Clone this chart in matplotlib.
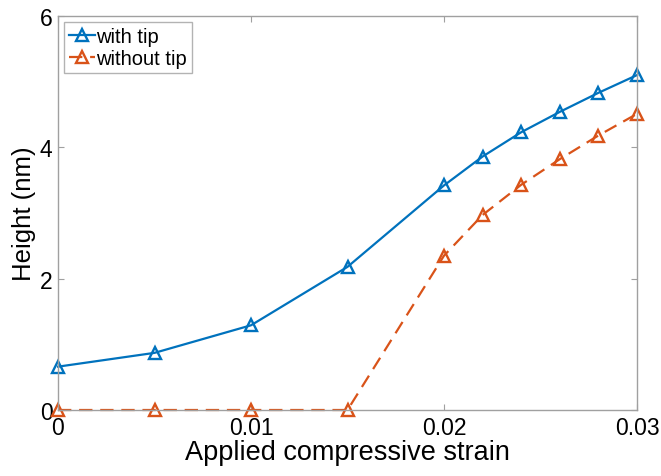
import matplotlib
matplotlib.use("Agg")
import matplotlib.pyplot as plt

strain_with = [0.0, 0.005, 0.01, 0.015, 0.02, 0.022, 0.024, 0.026, 0.028, 0.03]
height_with = [0.66, 0.87, 1.29, 2.18, 3.42, 3.86, 4.23, 4.54, 4.83, 5.10]
strain_without = [0.0, 0.005, 0.01, 0.015, 0.02, 0.022, 0.024, 0.026, 0.028, 0.03]
height_without = [0.0, 0.0, 0.0, 0.0, 2.35, 2.97, 3.43, 3.82, 4.18, 4.51]
xticks = [0, 0.01, 0.02, 0.03]
xticklabels = ["0", "0.01", "0.02", "0.03"]
yticks = [0, 2, 4, 6]

plt.rcParams['font.family'] = ['Liberation Sans', 'DejaVu Sans']

fig = plt.figure(figsize=(6.61, 4.77), dpi=100)
ax = fig.add_axes([58/661, 1-411/477, (637-58)/661, (411-17)/477])

ax.plot(strain_with, height_with, '-', color='#0072BD', lw=1.6, marker='^',
        markersize=9, markerfacecolor='none', markeredgewidth=1.7, label='with tip', clip_on=False)
ax.plot(strain_without, height_without, '--', color='#D95319', lw=1.6, marker='^',
        markersize=9, markerfacecolor='none', markeredgewidth=1.7, label='without tip',
        dashes=(6, 3.5), clip_on=False)

ax.set_xlim(0, 0.03)
ax.set_ylim(0, 6)
ax.set_xticks(xticks)
ax.set_xticklabels(xticklabels)
ax.set_yticks(yticks)
ax.tick_params(direction='in', length=4, width=0.8, color='#a0a0a0', labelsize=16.5, pad=4,
               top=True, right=True)
for s in ax.spines.values():
    s.set_color('#a0a0a0')
    s.set_linewidth(1.0)
ax.set_xlabel('Applied compressive strain', fontsize=19.5, labelpad=0)
ax.set_ylabel('Height (nm)', fontsize=18.5, labelpad=3)

leg = ax.legend(loc='upper left', fontsize=14.5, frameon=True, fancybox=False,
                handlelength=1.3, handletextpad=0.05, borderpad=0.25, labelspacing=0.15,
                borderaxespad=0.3)
leg.get_frame().set_edgecolor('#a0a0a0')
leg.get_frame().set_linewidth(1.0)

fig.savefig('out.png', dpi=100)
